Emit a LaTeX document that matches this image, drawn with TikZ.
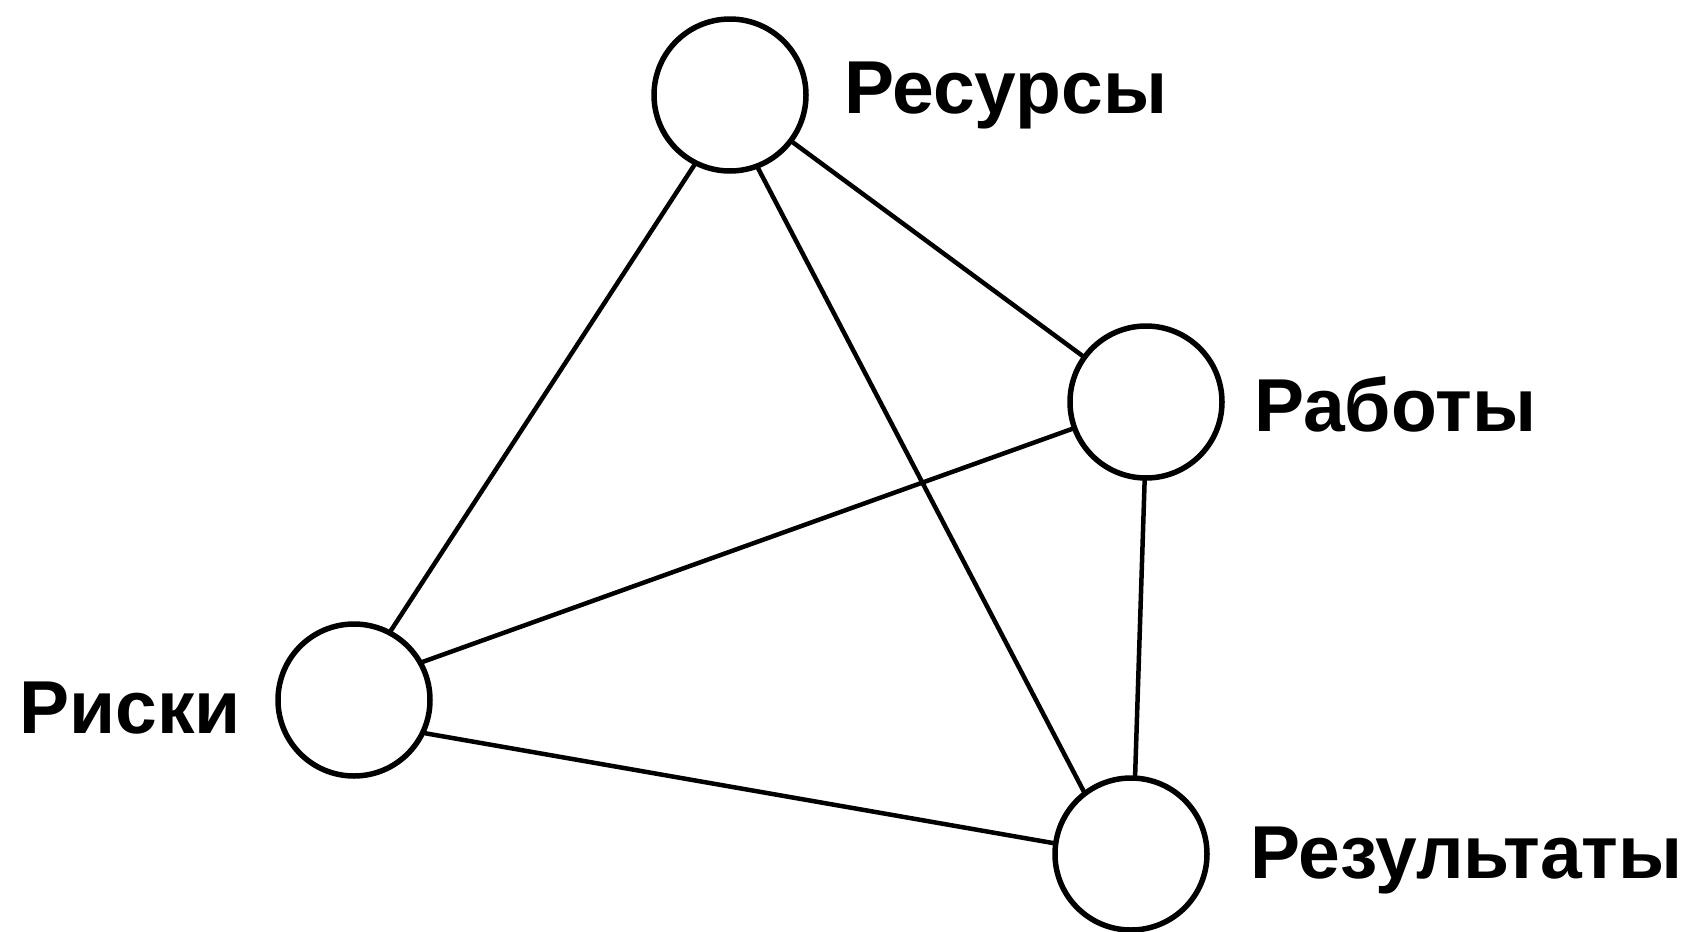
\documentclass[tikz,border=0pt]{standalone}
\usepackage{fontspec}
\setmainfont{Liberation Sans}
\begin{document}
\begin{tikzpicture}[x=1pt,y=-1pt,
  vert/.style={circle,draw=black,line width=5.5pt,minimum size=152pt,inner sep=0pt,fill=white},
  lbl/.style={anchor=base west,inner sep=0pt,font=\fontsize{75}{80}\selectfont\bfseries},
  edge/.style={line width=4.5pt,line cap=round}]
\useasboundingbox (0,0) rectangle (1690,932);
\node[vert] (res) at (730,95) {};
\node[vert] (rab) at (1146,402) {};
\node[vert] (risk) at (354,700) {};
\node[vert] (rez) at (1131,854) {};
\node[lbl] (tres) at (844,113) {Ресурсы};
\node[lbl] (trab) at (1254,431) {Работы};
\node[lbl] (trisk) at (19,733) {Риски};
\node[lbl] (trez) at (1250,878) {Результаты};
\draw[edge] (res.-117) -- (risk.62);
\draw[edge] (res.-69) -- (rez.127);
\draw[edge] (res.-37) -- (rab.144);
\draw[edge] (rab.200) -- (risk.29);
\draw[edge] (rab.-91) -- (rez.87);
\draw[edge] (risk.-25) -- (rez.172);
\end{tikzpicture}
\end{document}
